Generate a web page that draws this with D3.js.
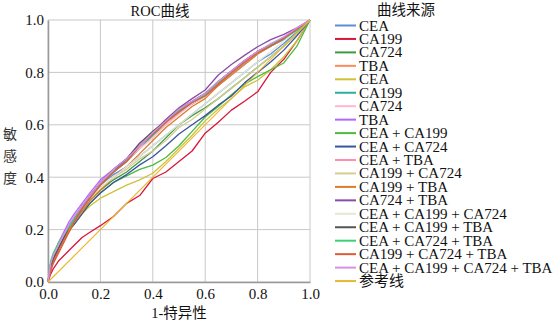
<!DOCTYPE html>
<html>
<head>
<meta charset="utf-8">
<script src="https://cdn.jsdelivr.net/npm/d3@7"></script>
<style>
  body { margin: 0; background: #fff; }
</style>
</head>
<body>
<script>
const w = 558;
const h = 325;
const serif = "'Liberation Serif', 'Times New Roman', Times, 'DejaVu Serif', 'Noto Sans CJK SC', serif";

// false positive rate grid shared by every curve
const fpr = [0, .01, .02, .04, .06, .08, .1, .13, .16, .2, .25, .3, .35, .4, .45, .5, .55, .6, .65, .7, .75, .8, .85, .9, .95, 1];

// sensitivity for each curve
const seriesNames = ["CEA", "CA199", "CA724", "TBA", "CEA", "CA199", "CA724", "TBA",
  "CEA + CA199", "CEA + CA724", "CEA + TBA", "CA199 + CA724", "CA199 + TBA", "CA724 + TBA",
  "CEA + CA199 + CA724", "CEA + CA199 + TBA", "CEA + CA724 + TBA", "CA199 + CA724 + TBA",
  "CEA + CA199 + CA724 + TBA"];
const seriesColors = ["#5b8fd8", "#d8163c", "#3f9a3f", "#ff8a5c", "#cdc23a", "#2ab09a", "#ffb8d0", "#b266ff",
  "#4cbb3c", "#3a55a0", "#ff8fb0", "#d6cc90", "#e07b2a", "#8a4ca8",
  "#e6e6d2", "#555555", "#3ecf7a", "#e05a3a", "#d88fe8"];
const tpr = [
  [0, .07, .10, .14, .17, .21, .24, .29, .33, .37, .41, .44, .48, .52, .56, .60, .64, .68, .72, .76, .80, .84, .87, .91, .955, 1],
  [0, .03, .05, .08, .10, .12, .14, .17, .19, .215, .25, .30, .33, .395, .42, .46, .50, .568, .61, .656, .69, .726, .80, .85, .92, 1],
  [0, .06, .10, .14, .18, .21, .24, .28, .31, .35, .39, .42, .46, .50, .55, .60, .635, .665, .70, .74, .78, .82, .86, .90, .95, 1],
  [0, .05, .08, .12, .16, .20, .23, .28, .32, .37, .42, .46, .51, .56, .60, .645, .68, .71, .755, .795, .835, .875, .90, .93, .965, 1],
  [0, .05, .08, .12, .16, .19, .22, .26, .29, .32, .345, .37, .39, .415, .46, .51, .56, .615, .66, .70, .745, .77, .81, .86, .92, 1],
  [0, .07, .10, .14, .18, .22, .25, .29, .33, .37, .42, .46, .51, .56, .61, .65, .68, .71, .75, .79, .83, .87, .90, .925, .96, 1],
  [0, .07, .10, .15, .19, .22, .25, .29, .33, .37, .42, .46, .51, .55, .60, .64, .68, .71, .75, .79, .83, .87, .90, .93, .965, 1],
  [0, .07, .10, .15, .19, .23, .26, .30, .34, .39, .43, .47, .53, .57, .61, .655, .685, .715, .76, .80, .84, .88, .905, .935, .965, 1],
  [0, .06, .09, .13, .17, .20, .23, .27, .30, .34, .38, .405, .43, .446, .475, .52, .575, .63, .67, .715, .755, .784, .81, .836, .90, 1],
  [0, .05, .08, .12, .16, .20, .22, .26, .30, .34, .38, .41, .447, .478, .52, .565, .60, .635, .675, .71, .76, .80, .84, .885, .94, 1],
  [0, .06, .09, .13, .17, .21, .24, .28, .32, .37, .42, .47, .52, .57, .62, .66, .69, .72, .765, .805, .845, .88, .905, .935, .965, 1],
  [0, .06, .09, .13, .17, .20, .23, .28, .31, .36, .40, .43, .47, .50, .54, .59, .62, .66, .70, .74, .78, .82, .86, .90, .95, 1],
  [0, .05, .08, .12, .16, .20, .23, .27, .31, .35, .40, .44, .49, .54, .59, .63, .67, .70, .75, .79, .83, .87, .90, .93, .965, 1],
  [0, .06, .09, .13, .17, .21, .24, .29, .32, .37, .42, .47, .52, .57, .62, .665, .70, .733, .79, .83, .865, .898, .925, .945, .97, 1],
  [0, .06, .10, .14, .18, .21, .24, .28, .32, .36, .40, .44, .48, .52, .56, .60, .64, .68, .72, .76, .80, .84, .88, .92, .96, 1],
  [0, .06, .09, .13, .17, .21, .24, .28, .33, .38, .43, .47, .53, .575, .615, .66, .69, .72, .765, .805, .845, .88, .905, .93, .965, 1],
  [0, .08, .11, .15, .18, .21, .24, .28, .32, .37, .42, .46, .52, .57, .61, .655, .685, .715, .76, .80, .84, .878, .905, .93, .96, 1],
  [0, .04, .07, .11, .15, .19, .23, .28, .32, .37, .42, .46, .52, .565, .61, .65, .685, .71, .755, .80, .84, .875, .90, .93, .965, 1],
  [0, .07, .10, .14, .18, .22, .25, .29, .33, .38, .43, .47, .52, .57, .615, .66, .69, .72, .765, .805, .845, .88, .91, .935, .97, 1]
];
const refLabel = "参考线";
const refColor = "#e8b830";
const ticks = [0, 0.2, 0.4, 0.6, 0.8, 1.0];

const xScale = d3.scaleLinear().domain([0, 1]).range([48, 310]);
const yScale = d3.scaleLinear().domain([0, 1]).range([282, 20]);

const svg = d3.select("body").append("svg")
    .attr("width", w)
    .attr("height", h)
    .attr("font-family", serif);

// gridlines
svg.append("g")
    .selectAll("line")
    .data(ticks)
    .enter()
    .append("line")
        .attr("x1", d => xScale(d)).attr("x2", d => xScale(d))
        .attr("y1", yScale(0)).attr("y2", yScale(1))
        .attr("stroke", "#c8c8c8");
svg.append("g")
    .selectAll("line")
    .data(ticks)
    .enter()
    .append("line")
        .attr("y1", d => yScale(d)).attr("y2", d => yScale(d))
        .attr("x1", xScale(0)).attr("x2", xScale(1))
        .attr("stroke", "#c8c8c8");

const xAxis = d3.axisBottom(xScale).tickValues(ticks).tickFormat(d3.format(".1f")).tickSize(0).tickPadding(6);
const yAxis = d3.axisLeft(yScale).tickValues(ticks).tickFormat(d3.format(".1f")).tickSize(0).tickPadding(4);

svg.append("g")
    .attr("transform", `translate(0, ${yScale(0)})`)
    .call(xAxis)
    .attr("font-family", serif)
    .attr("font-size", 15)
    .call(g => g.select(".domain").attr("stroke", "#999").attr("stroke-width", 1.5))
    .selectAll("text")
        .attr("fill", "#111");

svg.append("g")
    .attr("transform", `translate(${xScale(0)}, 0)`)
    .call(yAxis)
    .attr("font-family", serif)
    .attr("font-size", 15)
    .call(g => g.select(".domain").attr("stroke", "#999").attr("stroke-width", 1.5))
    .selectAll("text")
        .attr("fill", "#111");

// roc curves
const line = d3.line()
    .x((d, i) => xScale(fpr[i]))
    .y(d => yScale(d));

svg.append("g")
    .selectAll("path")
    .data(tpr)
    .enter()
    .append("path")
        .attr("d", d => line(d))
        .attr("fill", "none")
        .attr("stroke", (d, i) => seriesColors[i])
        .attr("stroke-width", 1.3)
        .attr("stroke-linejoin", "round");

// reference diagonal
svg.append("path")
    .attr("d", d3.line().x(d => xScale(d)).y(d => yScale(d))([0, 1]))
    .attr("stroke", refColor)
    .attr("stroke-width", 1.2);

// titles
svg.append("text")
    .attr("x", 160).attr("y", 16)
    .attr("text-anchor", "middle")
    .attr("font-size", 14.5)
    .attr("fill", "#111")
    .text("ROC曲线");

svg.append("text")
    .attr("x", 179).attr("y", 318)
    .attr("text-anchor", "middle")
    .attr("font-size", 14.5)
    .attr("fill", "#111")
    .text("1-特异性");

svg.append("g")
    .selectAll("text")
    .data(["敏", "感", "度"])
    .enter()
    .append("text")
        .attr("x", 10)
        .attr("y", (d, i) => 139 + i * 22)
        .attr("text-anchor", "middle")
        .attr("font-size", 14)
        .attr("fill", "#333")
        .text(d => d);

// legend
const legendItems = seriesNames.map((n, i) => ({ name: n, color: seriesColors[i] }))
    .concat([{ name: refLabel, color: refColor }]);

svg.append("text")
    .attr("x", 406).attr("y", 15)
    .attr("text-anchor", "middle")
    .attr("font-size", 14.5)
    .attr("fill", "#111")
    .text("曲线来源");

const legend = svg.append("g")
    .selectAll("g")
    .data(legendItems)
    .enter()
    .append("g")
        .attr("transform", (d, i) => `translate(335, ${25.5 + i * 13.45})`);

legend.append("line")
    .attr("x1", 0).attr("x2", 21)
    .attr("stroke", d => d.color)
    .attr("stroke-width", 2);

legend.append("text")
    .attr("x", 24).attr("y", 5)
    .attr("font-size", 15)
    .attr("fill", "#111")
    .text(d => d.name);
</script>
</body>
</html>
